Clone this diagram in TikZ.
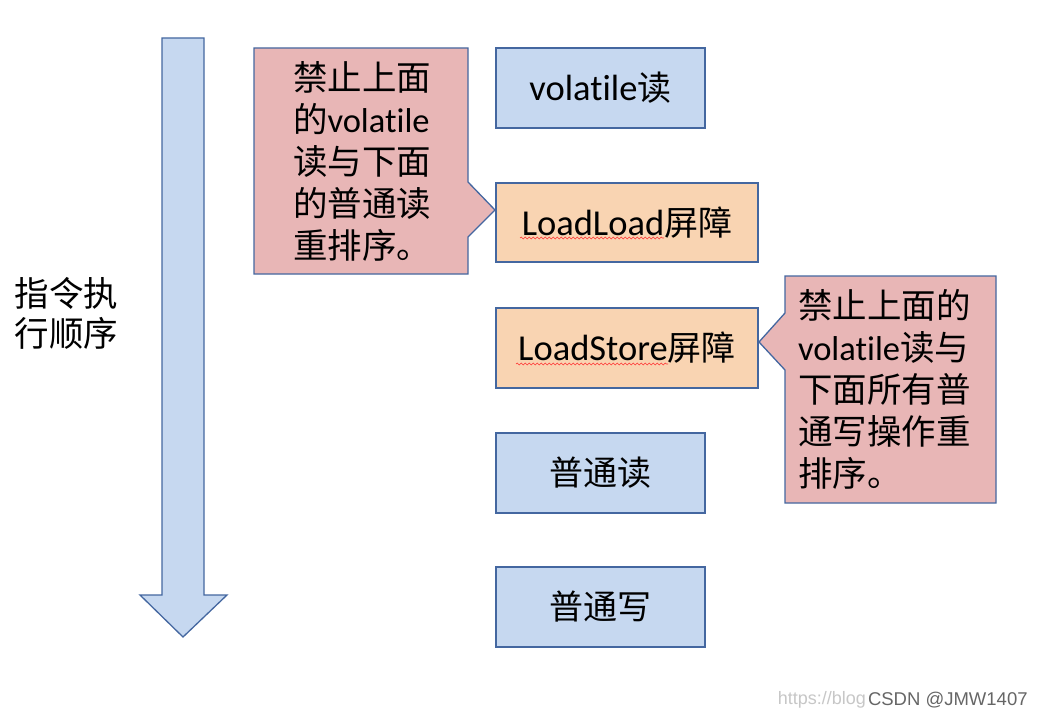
\documentclass[tikz,border=0pt]{standalone}
\usepackage{fontspec}
\setmainfont{Carlito}[Ligatures={NoCommon}]
\newfontfamily\cjk{Noto Sans CJK SC}
\newfontfamily\wmfont{Liberation Sans}
\newcommand\boxcjk[1]{{\cjk\fontsize{34}{42}\selectfont #1}}
\usetikzlibrary{decorations.pathmorphing}
\definecolor{bluefill}{RGB}{198,216,240}
\definecolor{orangefill}{RGB}{249,212,178}
\definecolor{pinkfill}{RGB}{232,182,182}
\definecolor{edgeblue}{RGB}{68,103,160}
\tikzset{
  every node/.style={inner sep=0pt, outer sep=0pt},
  bigtext/.style={font=\fontsize{34.5}{42}\selectfont},
  boxtext/.style={font=\fontsize{36.5}{42}\selectfont},
  bluebox/.style={draw=edgeblue, line width=1.3pt, fill=bluefill, boxtext},
  orangebox/.style={draw=edgeblue, line width=1.3pt, fill=orangefill, boxtext},
  calloutshape/.style={draw=edgeblue, line width=1.3pt, fill=pinkfill, line join=miter},
  callouttext/.style={bigtext, align=left, anchor=west},
  flowarrow/.style={draw=edgeblue, line width=1.3pt, fill=bluefill, line join=miter},
  spellmark/.style={draw=red!80, line width=0.6pt, decorate, decoration={snake, amplitude=0.9pt, segment length=4pt}},
}
\begin{document}
\begin{tikzpicture}[x=1pt, y=-1pt]
\useasboundingbox[fill=white] (0,0) rectangle (1042,717);
% big arrow
\draw[flowarrow] (162,38) -- (204,38) -- (204,595) -- (227,595) -- (183,637) -- (140,595) -- (162,595) -- cycle;
\node[font=\fontsize{34.5}{40}\selectfont, align=left, anchor=west] (order) at (15,313) {{\cjk 指令执}\\{\cjk 行顺序}};
% boxes
\node[bluebox, minimum width=209pt, minimum height=80pt] (vr) at (600.5,88) {volatile\boxcjk{读}};
\node[orangebox, minimum width=262pt, minimum height=79pt] (ll) at (627,222.5) {LoadLoad\boxcjk{屏障}};
\node[orangebox, minimum width=262pt, minimum height=80pt] (ls) at (627,348) {LoadStore\boxcjk{屏障}};
\node[bluebox, minimum width=209pt, minimum height=80pt] (nr) at (600.5,473) {\boxcjk{普通读}};
\node[bluebox, minimum width=209pt, minimum height=80pt] (nw) at (600.5,607) {\boxcjk{普通写}};
% callout 1
\coordinate (c1tip) at (495,210);
\draw[calloutshape] (254,48) -- (468,48) -- (468,182) -- (c1tip) -- (468,237) -- (468,274) -- (254,274) -- cycle;
\node[callouttext] (c1) at (293,161.5) {{\cjk 禁止上面}\\{\cjk 的}volatile\\{\cjk 读与下面}\\{\cjk 的普通读}\\{\cjk 重排序。}};
% callout 2
\coordinate (c2tip) at (759,342);
\draw[calloutshape] (785,276) -- (996,276) -- (996,503) -- (785,503) -- (785,370) -- (c2tip) -- (785,313) -- cycle;
\node[callouttext] (c2) at (798,389) {{\cjk 禁止上面的}\\volatile{\cjk 读与}\\{\cjk 下面所有普}\\{\cjk 通写操作重}\\{\cjk 排序。}};
% spell-check marks
\draw[spellmark] (520,238) -- (664,238);
\draw[spellmark] (516,364) -- (668,364);
% watermark
\node[font=\wmfont\fontsize{18}{18}\selectfont, text=black!22, anchor=east] (wm1) at (866,700) {https://blog};
\node[font=\wmfont\fontsize{18.5}{18.5}\selectfont, text=black!60, anchor=west] (wm2) at (868,700) {CSDN @JMW1407};
\end{tikzpicture}
\end{document}
